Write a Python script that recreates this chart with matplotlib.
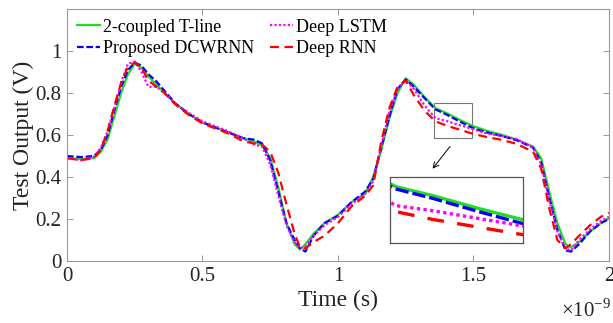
import matplotlib
matplotlib.use("Agg")
import matplotlib.pyplot as plt
from matplotlib.patches import Rectangle

plt.rcParams["font.family"] = ["Liberation Serif", "DejaVu Serif"]
plt.rcParams["mathtext.fontset"] = "custom"
plt.rcParams["mathtext.rm"] = "Liberation Serif"

# time in ns (axis carries the x10^-9 multiplier)
t_ns = [0, 0.05, 0.10, 0.125, 0.15, 0.175, 0.20, 0.225, 0.25, 0.275, 0.30, 0.33, 0.36,
        0.40, 0.45, 0.50, 0.55, 0.60, 0.65, 0.69, 0.72, 0.75, 0.78, 0.81, 0.84, 0.86,
        0.88, 0.91, 0.95, 1.00, 1.05, 1.10, 1.13, 1.16, 1.19, 1.22, 1.25, 1.28, 1.32,
        1.36, 1.40, 1.45, 1.50, 1.55, 1.60, 1.66, 1.72, 1.75, 1.78, 1.81, 1.84, 1.86,
        1.89, 1.93, 1.97, 2.00]

v_tline = [0.49, 0.485, 0.49, 0.52, 0.58, 0.69, 0.80, 0.89, 0.94, 0.92, 0.88, 0.84, 0.80,
           0.75, 0.70, 0.66, 0.635, 0.61, 0.585, 0.57, 0.55, 0.49, 0.35, 0.18, 0.08, 0.055,
           0.08, 0.13, 0.18, 0.22, 0.28, 0.32, 0.40, 0.53, 0.68, 0.80, 0.87, 0.84, 0.78,
           0.728, 0.705, 0.672, 0.642, 0.62, 0.603, 0.578, 0.545, 0.49, 0.33, 0.18, 0.08, 0.065,
           0.09, 0.14, 0.18, 0.205]

v_dcwrnn = [0.50, 0.495, 0.50, 0.53, 0.60, 0.72, 0.83, 0.91, 0.945, 0.93, 0.89, 0.855, 0.81,
            0.75, 0.70, 0.66, 0.635, 0.61, 0.585, 0.578, 0.56, 0.48, 0.33, 0.18, 0.10, 0.06,
            0.045, 0.12, 0.18, 0.215, 0.28, 0.33, 0.39, 0.54, 0.69, 0.82, 0.865, 0.83, 0.775,
            0.722, 0.698, 0.664, 0.632, 0.612, 0.597, 0.575, 0.54, 0.47, 0.30, 0.15, 0.05, 0.045,
            0.08, 0.14, 0.18, 0.20]

v_lstm = [0.49, 0.48, 0.495, 0.54, 0.62, 0.73, 0.85, 0.94, 0.95, 0.90, 0.83, 0.83, 0.80,
          0.75, 0.705, 0.665, 0.64, 0.615, 0.585, 0.555, 0.545, 0.46, 0.31, 0.17, 0.09, 0.06,
          0.07, 0.12, 0.17, 0.21, 0.27, 0.32, 0.38, 0.55, 0.71, 0.82, 0.86, 0.82, 0.74,
          0.68, 0.667, 0.647, 0.627, 0.607, 0.597, 0.58, 0.54, 0.46, 0.29, 0.14, 0.06, 0.05,
          0.10, 0.15, 0.19, 0.21]

v_rnn = [0.49, 0.48, 0.49, 0.53, 0.62, 0.74, 0.85, 0.925, 0.945, 0.92, 0.86, 0.83, 0.80,
         0.745, 0.695, 0.655, 0.63, 0.605, 0.57, 0.56, 0.555, 0.52, 0.42, 0.27, 0.13, 0.065,
         0.06, 0.09, 0.12, 0.18, 0.26, 0.31, 0.36, 0.57, 0.73, 0.83, 0.86, 0.79, 0.715,
         0.665, 0.645, 0.625, 0.605, 0.59, 0.578, 0.558, 0.52, 0.44, 0.25, 0.10, 0.06, 0.08,
         0.12, 0.17, 0.21, 0.23]

x_ticks = [0, 0.5, 1, 1.5, 2]
x_tick_labels = ["0", "0.5", "1", "1.5", "2"]
y_ticks = [0, 0.2, 0.4, 0.6, 0.8, 1.0]
y_tick_labels = ["0", "0.2", "0.4", "0.6", "0.8", "1"]
zoom_x = (1.354, 1.496)
zoom_y = (0.586, 0.752)

# (label, values, colour, main style, inset style)
series = [
    ("2-coupled T-line", v_tline, "#22dd22", "-", "-"),
    ("Proposed DCWRNN", v_dcwrnn, "#0000ff", (0, (3, 1.2)), (0, (4, 1.2))),
    ("Deep LSTM", v_lstm, "#ff00ff", (0, (1, 1)), (0, (1, 1))),
    ("Deep RNN", v_rnn, "#ff0000", (0, (4, 2.5)), (0, (5, 4))),
]

fig = plt.figure(figsize=(6.13, 3.23), dpi=100)
ax = fig.add_axes([0.1093, 0.192, 0.884, 0.780])
for name, vals, col, ls, _ in series:
    ax.plot(t_ns, vals, label=name, color=col, linestyle=ls, linewidth=1.6)

ax.set_xlim(0, 2)
ax.set_ylim(0, 1.2)
ax.set_xticks(x_ticks)
ax.set_xticklabels(x_tick_labels)
ax.set_yticks(y_ticks)
ax.set_yticklabels(y_tick_labels)
ax.tick_params(direction="in", top=True, right=True, length=4, width=0.6,
               color="#888888", labelsize=15, labelcolor="#222222", pad=4)
for sp in ax.spines.values():
    sp.set_color("#999999")
    sp.set_linewidth(0.8)
ax.set_xlabel("Time (s)", fontsize=17, color="#222222", labelpad=3)
ax.set_ylabel("Test Output (V)", fontsize=17, color="#222222", labelpad=1)
fig.text(0.997, 0.005, r"$\times 10^{-9}$", ha="right", va="bottom", fontsize=15, color="#222222")

ax.legend(loc="upper left", ncol=2, frameon=False, fontsize=13, handlelength=1.3,
          handletextpad=0.12, columnspacing=0.9, labelspacing=0.25,
          borderaxespad=0.0, bbox_to_anchor=(0.005, 0.99))

# zoom box and arrow
ax.add_patch(Rectangle((zoom_x[0], zoom_y[0]), zoom_x[1] - zoom_x[0], zoom_y[1] - zoom_y[0],
                       fill=False, edgecolor="#777777", linewidth=0.8))
ax.annotate("", xy=(1.343, 0.429), xytext=(1.42, 0.556),
            arrowprops=dict(arrowstyle="->", color="black", linewidth=0.7))

ins = fig.add_axes([0.636, 0.248, 0.217, 0.204])
for name, vals, col, _, ls in series:
    ins.plot(t_ns, vals, color=col, linestyle=ls, linewidth=2.4)
ins.set_xlim(*zoom_x)
ins.set_ylim(*zoom_y)
ins.set_xticks([])
ins.set_yticks([])
for sp in ins.spines.values():
    sp.set_color("#555555")
    sp.set_linewidth(0.9)

fig.savefig("out.png", dpi=100)
